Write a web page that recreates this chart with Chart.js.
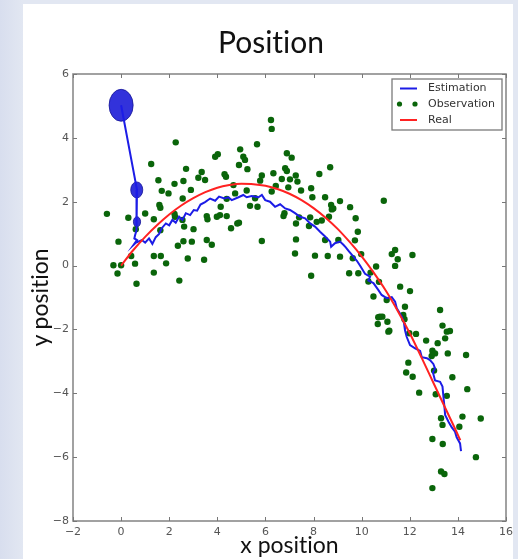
<!DOCTYPE html>
<html><head><meta charset="utf-8">
<script src="https://cdn.jsdelivr.net/npm/chart.js@4.4.1/dist/chart.umd.min.js"></script>
<style>
html,body{margin:0;padding:0;}
body{width:518px;height:559px;background:linear-gradient(to right,#d8deee 0px,#e2e7f2 23px,#e2e7f2 100%);position:relative;overflow:hidden;}
#panel{position:absolute;left:23px;top:4px;width:490px;height:555px;background:#fff;}
#wrap{position:absolute;left:0;top:0;width:518px;height:559px;}
</style></head><body>
<div id="panel"></div>
<div id="wrap"><canvas id="c" width="518" height="559"></canvas></div>
<script>
// ---- data ----
const xTicks = [-2, 0, 2, 4, 6, 8, 10, 12, 14, 16];
const yTicks = [-8, -6, -4, -2, 0, 2, 4, 6];

const estX = [
  0, 0.66, 0.66, 0.62, 0.58, 0.55, 0.66, 0.52, 0.62, 0.86,
  1.00, 1.16, 1.30, 1.44, 1.58, 1.69, 1.86, 2.00, 2.13, 2.27,
  2.41, 2.55, 2.69, 2.87, 3.02, 3.16, 3.30, 3.49, 3.70, 3.91,
  4.07, 4.29, 4.46, 4.60, 4.88, 5.08, 5.22, 5.43, 5.71, 5.85,
  5.99, 6.19, 6.40, 6.61, 6.82, 7.02, 7.23, 7.44, 7.65, 7.86,
  8.06, 8.27, 8.48, 8.69, 8.73, 8.89, 9.10, 9.24, 9.34, 9.48,
  9.66, 9.80, 9.93, 10.14, 10.35, 10.28, 10.49, 10.69, 10.83, 11.04,
  11.25, 11.39, 11.46, 11.67, 11.76, 11.80, 11.87, 12.01, 12.22, 12.43,
  12.50, 12.71, 12.84, 12.98, 13.05, 12.96, 13.05, 13.26, 13.36, 13.40,
  13.44, 13.47, 13.61, 13.74, 13.88, 13.95, 14.09, 14.13
];
const estY = [
  5.02, 2.37, 1.37, 1.10, 0.95, 0.85, 0.80, 0.65, 0.72, 0.80,
  0.72, 0.85, 0.68, 0.89, 0.99, 1.17, 1.32, 1.26, 1.43, 1.34,
  1.53, 1.43, 1.64, 1.58, 1.74, 1.72, 1.91, 1.99, 2.10, 2.03,
  2.16, 2.10, 2.14, 2.05, 2.14, 2.21, 2.14, 2.18, 2.14, 2.21,
  2.05, 2.00, 1.84, 1.92, 1.79, 1.74, 1.64, 1.53, 1.48, 1.32,
  1.22, 1.06, 0.91, 0.75, 0.59, 0.70, 0.75, 0.65, 0.57, 0.44,
  0.28, 0.15, 0.00, -0.26, -0.35, -0.47, -0.55, -0.76, -0.92, -1.02,
  -0.99, -1.13, -1.34, -1.60, -1.80, -2.02, -2.23, -2.49, -2.59, -2.67,
  -2.87, -2.90, -2.96, -3.08, -3.22, -3.34, -3.60, -3.64, -3.79, -4.11,
  -4.42, -4.68, -4.89, -5.06, -5.20, -5.38, -5.57, -5.81
];

const obsX = [
  2.27, 1.25, 4.02, 3.91, 2.70, 3.35, 3.21, 3.49, 1.55, 2.59,
  2.22, 1.69, 1.97, 2.90, 2.56, 1.59, 1.63, -0.59, 0.30, 1.00,
  1.36, 2.22, 2.24, 2.55, 2.62, 3.01, 3.56, 3.59, 4.11, 3.98,
  4.14, 0.61, -0.11, 1.63, 2.36, 2.59, 2.94, 3.56, 3.77, 0.42,
  1.36, 1.65, 1.87, 2.77, 3.45, -0.32, 0.00, 0.58, -0.15, 1.36,
  0.64, 2.42, 4.36, 4.30, 4.67, 6.23, 6.26, 5.65, 4.95, 5.08,
  5.15, 6.89, 7.09, 4.90, 5.25, 6.82, 6.89, 8.69, 8.24, 5.85,
  6.33, 7.02, 7.26, 6.68, 5.78, 7.33, 6.43, 6.95, 7.48, 7.90,
  5.22, 6.26, 4.74, 7.95, 8.48, 9.10, 5.57, 5.36, 5.67, 4.39,
  8.73, 8.76, 8.82, 9.52, 8.64, 6.79, 6.75, 7.40, 7.27, 7.86,
  8.13, 8.34, 4.39, 4.83, 4.90, 4.57, 7.81, 9.75, 5.85, 7.27,
  8.48, 9.03, 7.23, 8.06, 8.59, 9.10, 9.63, 7.90, 9.48, 9.86,
  9.72, 10.92, 9.84, 9.98, 11.25, 11.39, 11.50, 12.11, 11.39, 10.60,
  10.37, 10.28, 10.72, 11.60, 12.01, 10.49, 11.04, 11.80, 13.26, 10.76,
  10.86, 10.69, 10.67, 11.07, 11.73, 11.78, 13.36, 11.15, 11.11, 13.54,
  13.67, 13.47, 11.98, 12.26, 12.68, 13.16, 12.94, 13.05, 12.91, 13.58,
  14.34, 11.94, 11.85, 12.12, 13.01, 13.77, 12.39, 13.08, 13.54, 14.39,
  13.30, 14.19, 14.95, 13.36, 14.06, 12.94, 13.37, 14.75, 13.30, 13.44,
  12.94
];
const obsY = [
  3.86, 3.18, 3.49, 3.41, 3.03, 2.93, 2.75, 2.68, 2.67, 2.65,
  2.56, 2.34, 2.26, 2.37, 2.10, 1.90, 1.81, 1.62, 1.50, 1.63,
  1.45, 1.62, 1.53, 1.43, 1.22, 1.14, 1.55, 1.45, 1.58, 1.53,
  1.84, 1.14, 0.75, 1.11, 0.62, 0.76, 0.75, 0.80, 0.65, 0.30,
  0.30, 0.30, 0.07, 0.22, 0.18, 0.01, 0.01, 0.06, -0.25, -0.22,
  -0.57, -0.47, 2.78, 2.86, 2.52, 4.56, 4.28, 3.80, 3.64, 3.41,
  3.31, 3.52, 3.38, 3.15, 3.02, 3.05, 2.96, 3.08, 2.87, 2.82,
  2.89, 2.70, 2.82, 2.71, 2.66, 2.63, 2.49, 2.45, 2.35, 2.42,
  2.35, 2.32, 2.26, 2.14, 2.14, 2.02, 2.11, 1.87, 1.84, 2.09,
  1.90, 1.76, 1.79, 1.83, 1.53, 1.64, 1.55, 1.51, 1.32, 1.51,
  1.37, 1.41, 1.55, 1.32, 1.34, 1.17, 1.24, 1.48, 0.77, 0.82,
  0.80, 0.80, 0.38, 0.31, 0.30, 0.28, 0.23, -0.32, -0.24, -0.24,
  0.79, 2.03, 1.06, 0.36, 0.36, 0.49, 0.20, 0.33, -0.01, -0.03,
  -0.22, -0.50, -0.51, -0.66, -0.80, -0.97, -1.08, -1.29, -1.39, -1.60,
  -1.60, -1.62, -1.83, -1.76, -1.55, -1.68, -1.88, -2.04, -2.07, -2.07,
  -2.05, -2.28, -2.12, -2.14, -2.35, -2.43, -2.67, -2.75, -2.83, -2.75,
  -2.80, -3.04, -3.35, -3.48, -3.29, -3.50, -3.98, -4.03, -4.08, -3.87,
  -4.78, -4.73, -4.79, -4.99, -5.05, -5.43, -5.59, -6.00, -6.45, -6.53,
  -6.97
];

const realX = [0, 0.5, 1, 1.5, 2, 2.5, 3, 3.5, 4, 4.5, 5, 5.5, 6, 6.5, 7, 7.5, 8, 8.5, 9, 9.5, 10, 10.5, 11, 11.5, 12, 12.5, 13, 13.5, 14, 14.1];
const realY = [0, 0.48, 0.90, 1.27, 1.60, 1.88, 2.11, 2.30, 2.44, 2.52, 2.56, 2.55, 2.50, 2.40, 2.25, 2.05, 1.80, 1.50, 1.15, 0.74, 0.29, -0.22, -0.78, -1.42, -2.12, -2.90, -3.70, -4.50, -5.30, -5.47];

// covariance ellipses of the estimate (centre and half-axes in data units)
const ellX = [0, 0.65, 0.66];
const ellY = [5.02, 2.37, 1.37];
const ellRx = [0.50, 0.25, 0.15];
const ellRy = [0.50, 0.25, 0.16];

const seriesNames = ['Estimation', 'Observation', 'Real'];
const colors = { est: '#1c1ce6', obs: '#0a650a', real: '#ff2222' };

// ---- build datasets ----
const zip = (xs, ys) => xs.map((x, i) => ({ x, y: ys[i] }));
const fmt = v => (v < 0 ? '\u2212' + Math.abs(v) : String(v));

const textPlugin = {
  id: 'noLigatures',
  beforeDraw(chart) {
    const ctx = chart.ctx;
    try { ctx.textRendering = 'optimizeSpeed'; } catch (e) {}
    try { ctx.fontKerning = 'normal'; } catch (e) {}
  }
};

const ellipsePlugin = {
  id: 'ellipses',
  beforeDatasetsDraw(chart) {
    const { ctx, scales: { x, y } } = chart;
    ctx.save();
    for (let i = 0; i < ellX.length; i++) {
      const cx = x.getPixelForValue(ellX[i]);
      const cy = y.getPixelForValue(ellY[i]);
      const rx = Math.abs(x.getPixelForValue(ellX[i] + ellRx[i]) - cx);
      const ry = Math.abs(y.getPixelForValue(ellY[i] + ellRy[i]) - cy);
      ctx.beginPath();
      ctx.ellipse(cx, cy, rx, ry, 0, 0, Math.PI * 2);
      ctx.fillStyle = 'rgba(28,28,215,0.9)';
      ctx.fill();
      ctx.lineWidth = 1;
      ctx.strokeStyle = 'rgba(20,20,150,0.8)';
      ctx.stroke();
    }
    ctx.restore();
  }
};

const framePlugin = {
  id: 'frame',
  afterDatasetsDraw(chart) {
    const { ctx, chartArea: a, scales: { x, y } } = chart;
    ctx.save();
    ctx.strokeStyle = '#8a8a8a';
    ctx.lineWidth = 1.6;
    ctx.strokeRect(a.left, a.top, a.right - a.left, a.bottom - a.top);
    ctx.strokeStyle = '#777';
    ctx.lineWidth = 1;
    const L = 4;
    ctx.beginPath();
    x.ticks.forEach(t => {
      const p = Math.round(x.getPixelForValue(t.value)) + 0.5;
      ctx.moveTo(p, a.bottom); ctx.lineTo(p, a.bottom - L);
      ctx.moveTo(p, a.top); ctx.lineTo(p, a.top + L);
    });
    y.ticks.forEach(t => {
      const p = Math.round(y.getPixelForValue(t.value)) + 0.5;
      ctx.moveTo(a.left, p); ctx.lineTo(a.left + L, p);
      ctx.moveTo(a.right, p); ctx.lineTo(a.right - L, p);
    });
    ctx.stroke();
    ctx.restore();
  }
};

const legendPlugin = {
  id: 'boxLegend',
  afterDraw(chart) {
    const { ctx, chartArea: a } = chart;
    const w = 110, h = 51;
    const x0 = a.right - 4 - w, y0 = a.top + 5;
    ctx.save();
    ctx.fillStyle = '#fff';
    ctx.fillRect(x0, y0, w, h);
    ctx.strokeStyle = '#7a7a7a';
    ctx.lineWidth = 1.3;
    ctx.strokeRect(x0, y0, w, h);
    const rows = [y0 + 9.5, y0 + 25, y0 + 41];
    const ds = chart.data.datasets;
    ctx.font = '11px "DejaVu Sans"';
    ctx.textBaseline = 'middle';
    ctx.textAlign = 'left';
    rows.forEach((ry, i) => {
      const d = ds[i];
      if (i === 1) {
        ctx.fillStyle = d.backgroundColor;
        [x0 + 7.5, x0 + 23].forEach(cx => { ctx.beginPath(); ctx.arc(cx, ry, 2.6, 0, Math.PI * 2); ctx.fill(); });
      } else {
        ctx.strokeStyle = d.borderColor;
        ctx.lineWidth = 2;
        ctx.beginPath(); ctx.moveTo(x0 + 8, ry); ctx.lineTo(x0 + 25, ry); ctx.stroke();
      }
      ctx.fillStyle = '#333';
      ctx.fillText(d.label, x0 + 36, ry);
    });
    ctx.restore();
  }
};

const tickFont = { family: 'DejaVu Sans', size: 11 };

new Chart(document.getElementById('c').getContext('2d'), {
  type: 'scatter',
  data: {
    datasets: [
      { label: seriesNames[0], data: zip(estX, estY), showLine: true, borderColor: colors.est, backgroundColor: colors.est, borderWidth: 2, pointRadius: 0, tension: 0, order: 1 },
      { label: seriesNames[1], data: zip(obsX, obsY), backgroundColor: colors.obs, borderColor: colors.obs, borderWidth: 0, pointRadius: 3.2, order: 2 },
      { label: seriesNames[2], data: zip(realX, realY), showLine: true, borderColor: colors.real, backgroundColor: colors.real, borderWidth: 2, pointRadius: 0, tension: 0.4, cubicInterpolationMode: 'monotone', order: 0 }
    ]
  },
  options: {
    responsive: false,
    animation: false,
    devicePixelRatio: 1,
    layout: { padding: { left: 36, right: 12, top: 0, bottom: 0 } },
    plugins: {
      legend: { display: false },
      tooltip: { enabled: false },
      title: { display: true, text: 'Position', color: '#111', font: { family: 'Lato', size: 30, weight: 'normal' }, padding: { top: 25, bottom: 13 } }
    },
    scales: {
      x: {
        type: 'linear', min: xTicks[0], max: xTicks[xTicks.length - 1],
        afterBuildTicks: s => { s.ticks = xTicks.map(v => ({ value: v })); },
        ticks: { font: tickFont, color: '#555', padding: 5, maxRotation: 0, autoSkip: false, callback: v => fmt(v) },
        grid: { display: false, drawTicks: false },
        border: { display: false },
        title: { display: true, text: 'x position', color: '#111', font: { family: 'Lato', size: 23 }, padding: { top: 0, bottom: 0 } },
        afterFit: s => { s.height = 38; }
      },
      y: {
        type: 'linear', min: yTicks[0], max: yTicks[yTicks.length - 1],
        afterBuildTicks: s => { s.ticks = yTicks.map(v => ({ value: v })); },
        ticks: { font: tickFont, color: '#555', padding: 4, autoSkip: false, callback: v => fmt(v) },
        grid: { display: false, drawTicks: false },
        border: { display: false },
        title: { display: true, text: 'y position', color: '#111', font: { family: 'Lato', size: 23, lineHeight: 0.4 }, padding: { top: 0, bottom: 0 } },
        afterFit: s => { s.width = 37; }
      }
    }
  },
  plugins: [textPlugin, ellipsePlugin, framePlugin, legendPlugin]
});
</script></body></html>
